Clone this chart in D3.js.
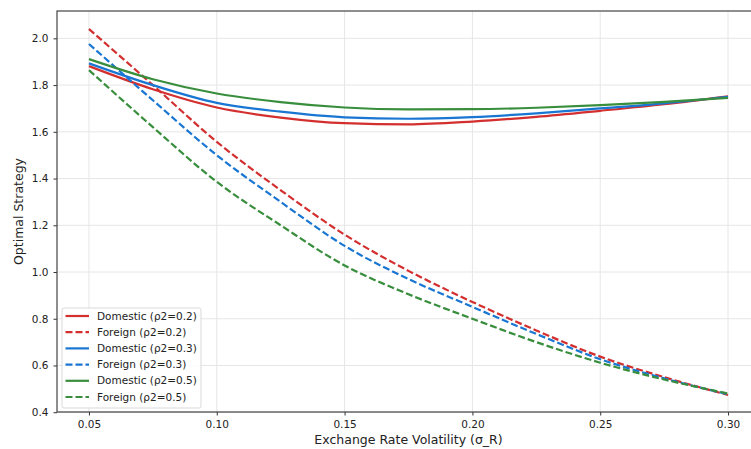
<!DOCTYPE html>
<meta charset="utf-8">
<script src="https://d3js.org/d3.v7.min.js"></script>
<style>
    body { margin: 0; background: #fff; }
    text { font-family: "DejaVu Sans", sans-serif; fill: #222; }
    .tick text { font-size: 10.5px; }
    .axis-label { font-size: 12.5px; }
    .legend text { font-size: 10.5px; }
</style>
<div id="my_dataviz"></div>
<script>
    // exchange rate volatility (x values)
    const sigmaR = [0.05, 0.075, 0.10, 0.125, 0.15, 0.175, 0.20, 0.225, 0.25, 0.275, 0.30]

    // optimal strategy values
    const domestic02 = [1.881, 1.782, 1.704, 1.661, 1.637, 1.632, 1.644, 1.664, 1.690, 1.718, 1.752]
    const foreign02  = [2.040, 1.800, 1.557, 1.350, 1.160, 1.005, 0.872, 0.750, 0.638, 0.550, 0.474]
    const domestic03 = [1.893, 1.800, 1.724, 1.686, 1.662, 1.656, 1.663, 1.679, 1.700, 1.722, 1.750]
    const foreign03  = [1.976, 1.735, 1.500, 1.300, 1.112, 0.970, 0.851, 0.735, 0.627, 0.545, 0.477]
    const domestic05 = [1.911, 1.825, 1.764, 1.727, 1.704, 1.696, 1.697, 1.703, 1.714, 1.728, 1.745]
    const foreign05  = [1.864, 1.620, 1.386, 1.200, 1.028, 0.905, 0.800, 0.700, 0.612, 0.540, 0.480]

    const xTicks = [0.05, 0.10, 0.15, 0.20, 0.25, 0.30]
    const yTicks = [0.4, 0.6, 0.8, 1.0, 1.2, 1.4, 1.6, 1.8, 2.0]

    const series = [
        {name: "Domestic (\u03c12=0.2)", values: domestic02, color: "#D32F2F", dashed: false},
        {name: "Foreign (\u03c12=0.2)",  values: foreign02,  color: "#D32F2F", dashed: true},
        {name: "Domestic (\u03c12=0.3)", values: domestic03, color: "#1976D2", dashed: false},
        {name: "Foreign (\u03c12=0.3)",  values: foreign03,  color: "#1976D2", dashed: true},
        {name: "Domestic (\u03c12=0.5)", values: domestic05, color: "#388E3C", dashed: false},
        {name: "Foreign (\u03c12=0.5)",  values: foreign05,  color: "#388E3C", dashed: true}
    ]

    const W = 751, H = 449
    const margin = {top: 11, right: -9, bottom: 37, left: 57},
          width = W - margin.left - margin.right,
          height = H - margin.top - margin.bottom

    const root = d3.select("#my_dataviz")
        .append("svg")
          .attr("width", W)
          .attr("height", H)

    const svg = root.append("g")
        .attr("transform", `translate(${margin.left},${margin.top})`)

    const x = d3.scaleLinear().domain([0.0375, 0.3125]).range([0, width])
    const y = d3.scaleLinear().domain([0.401, 2.117]).range([height, 0])

    // grid
    svg.append("g").selectAll("line")
        .data(xTicks).join("line")
          .attr("x1", d => x(d)).attr("x2", d => x(d))
          .attr("y1", 0).attr("y2", height)
          .style("stroke", "#e6e6e6").style("stroke-width", 1)
    svg.append("g").selectAll("line")
        .data(yTicks).join("line")
          .attr("x1", 0).attr("x2", width)
          .attr("y1", d => y(d)).attr("y2", d => y(d))
          .style("stroke", "#e6e6e6").style("stroke-width", 1)

    // lines
    const line = d3.line()
        .x((d, i) => x(sigmaR[i]))
        .y(d => y(d))
        .curve(d3.curveMonotoneX)

    svg.selectAll("myPath")
        .data(series)
        .join("path")
          .attr("d", d => line(d.values))
          .style("fill", "none")
          .style("stroke", d => d.color)
          .style("stroke-width", 2.2)
          .style("stroke-dasharray", d => d.dashed ? "7,3" : null)

    // axes
    const xAxis = svg.append("g")
        .attr("transform", `translate(0,${height})`)
        .call(d3.axisBottom(x).tickValues(xTicks).tickFormat(d3.format(".2f")).tickSize(3.5).tickPadding(5))
    const yAxis = svg.append("g")
        .call(d3.axisLeft(y).tickValues(yTicks).tickFormat(d3.format(".1f")).tickSize(3.5).tickPadding(5))
    xAxis.select(".domain").remove()
    yAxis.select(".domain").remove()
    svg.selectAll(".tick line").style("stroke", "#333")

    // spines
    svg.append("rect")
        .attr("x", 0).attr("y", 0)
        .attr("width", width).attr("height", height)
        .style("fill", "none")
        .style("stroke", "#444")
        .style("stroke-width", 1.2)

    // axis labels
    svg.append("text")
        .attr("class", "axis-label")
        .attr("x", x(0.175))
        .attr("y", height + 32)
        .style("text-anchor", "middle")
        .text("Exchange Rate Volatility (\u03c3_R)")
    svg.append("text")
        .attr("class", "axis-label")
        .attr("transform", `translate(${-34},${height / 2}) rotate(-90)`)
        .style("text-anchor", "middle")
        .text("Optimal Strategy")

    // legend
    const legend = svg.append("g")
        .attr("class", "legend")
        .attr("transform", "translate(5,297)")
    legend.append("rect")
        .attr("x", 0).attr("y", 0)
        .attr("width", 139).attr("height", 100)
        .attr("rx", 2)
        .style("fill", "#fff")
        .style("fill-opacity", 0.85)
        .style("stroke", "#d9d9d9")
    const rowH = 16.2
    legend.selectAll("mylines")
        .data(series).join("line")
          .attr("x1", 3.5).attr("x2", 27)
          .attr("y1", (d, i) => 8 + i * rowH).attr("y2", (d, i) => 8 + i * rowH)
          .style("stroke", d => d.color)
          .style("stroke-width", 2.2)
          .style("stroke-dasharray", d => d.dashed ? "7,3" : null)
    legend.selectAll("mylabels")
        .data(series).join("text")
          .attr("x", 35)
          .attr("y", (d, i) => 8 + i * rowH)
          .attr("dy", "0.35em")
          .text(d => d.name)
</script>
